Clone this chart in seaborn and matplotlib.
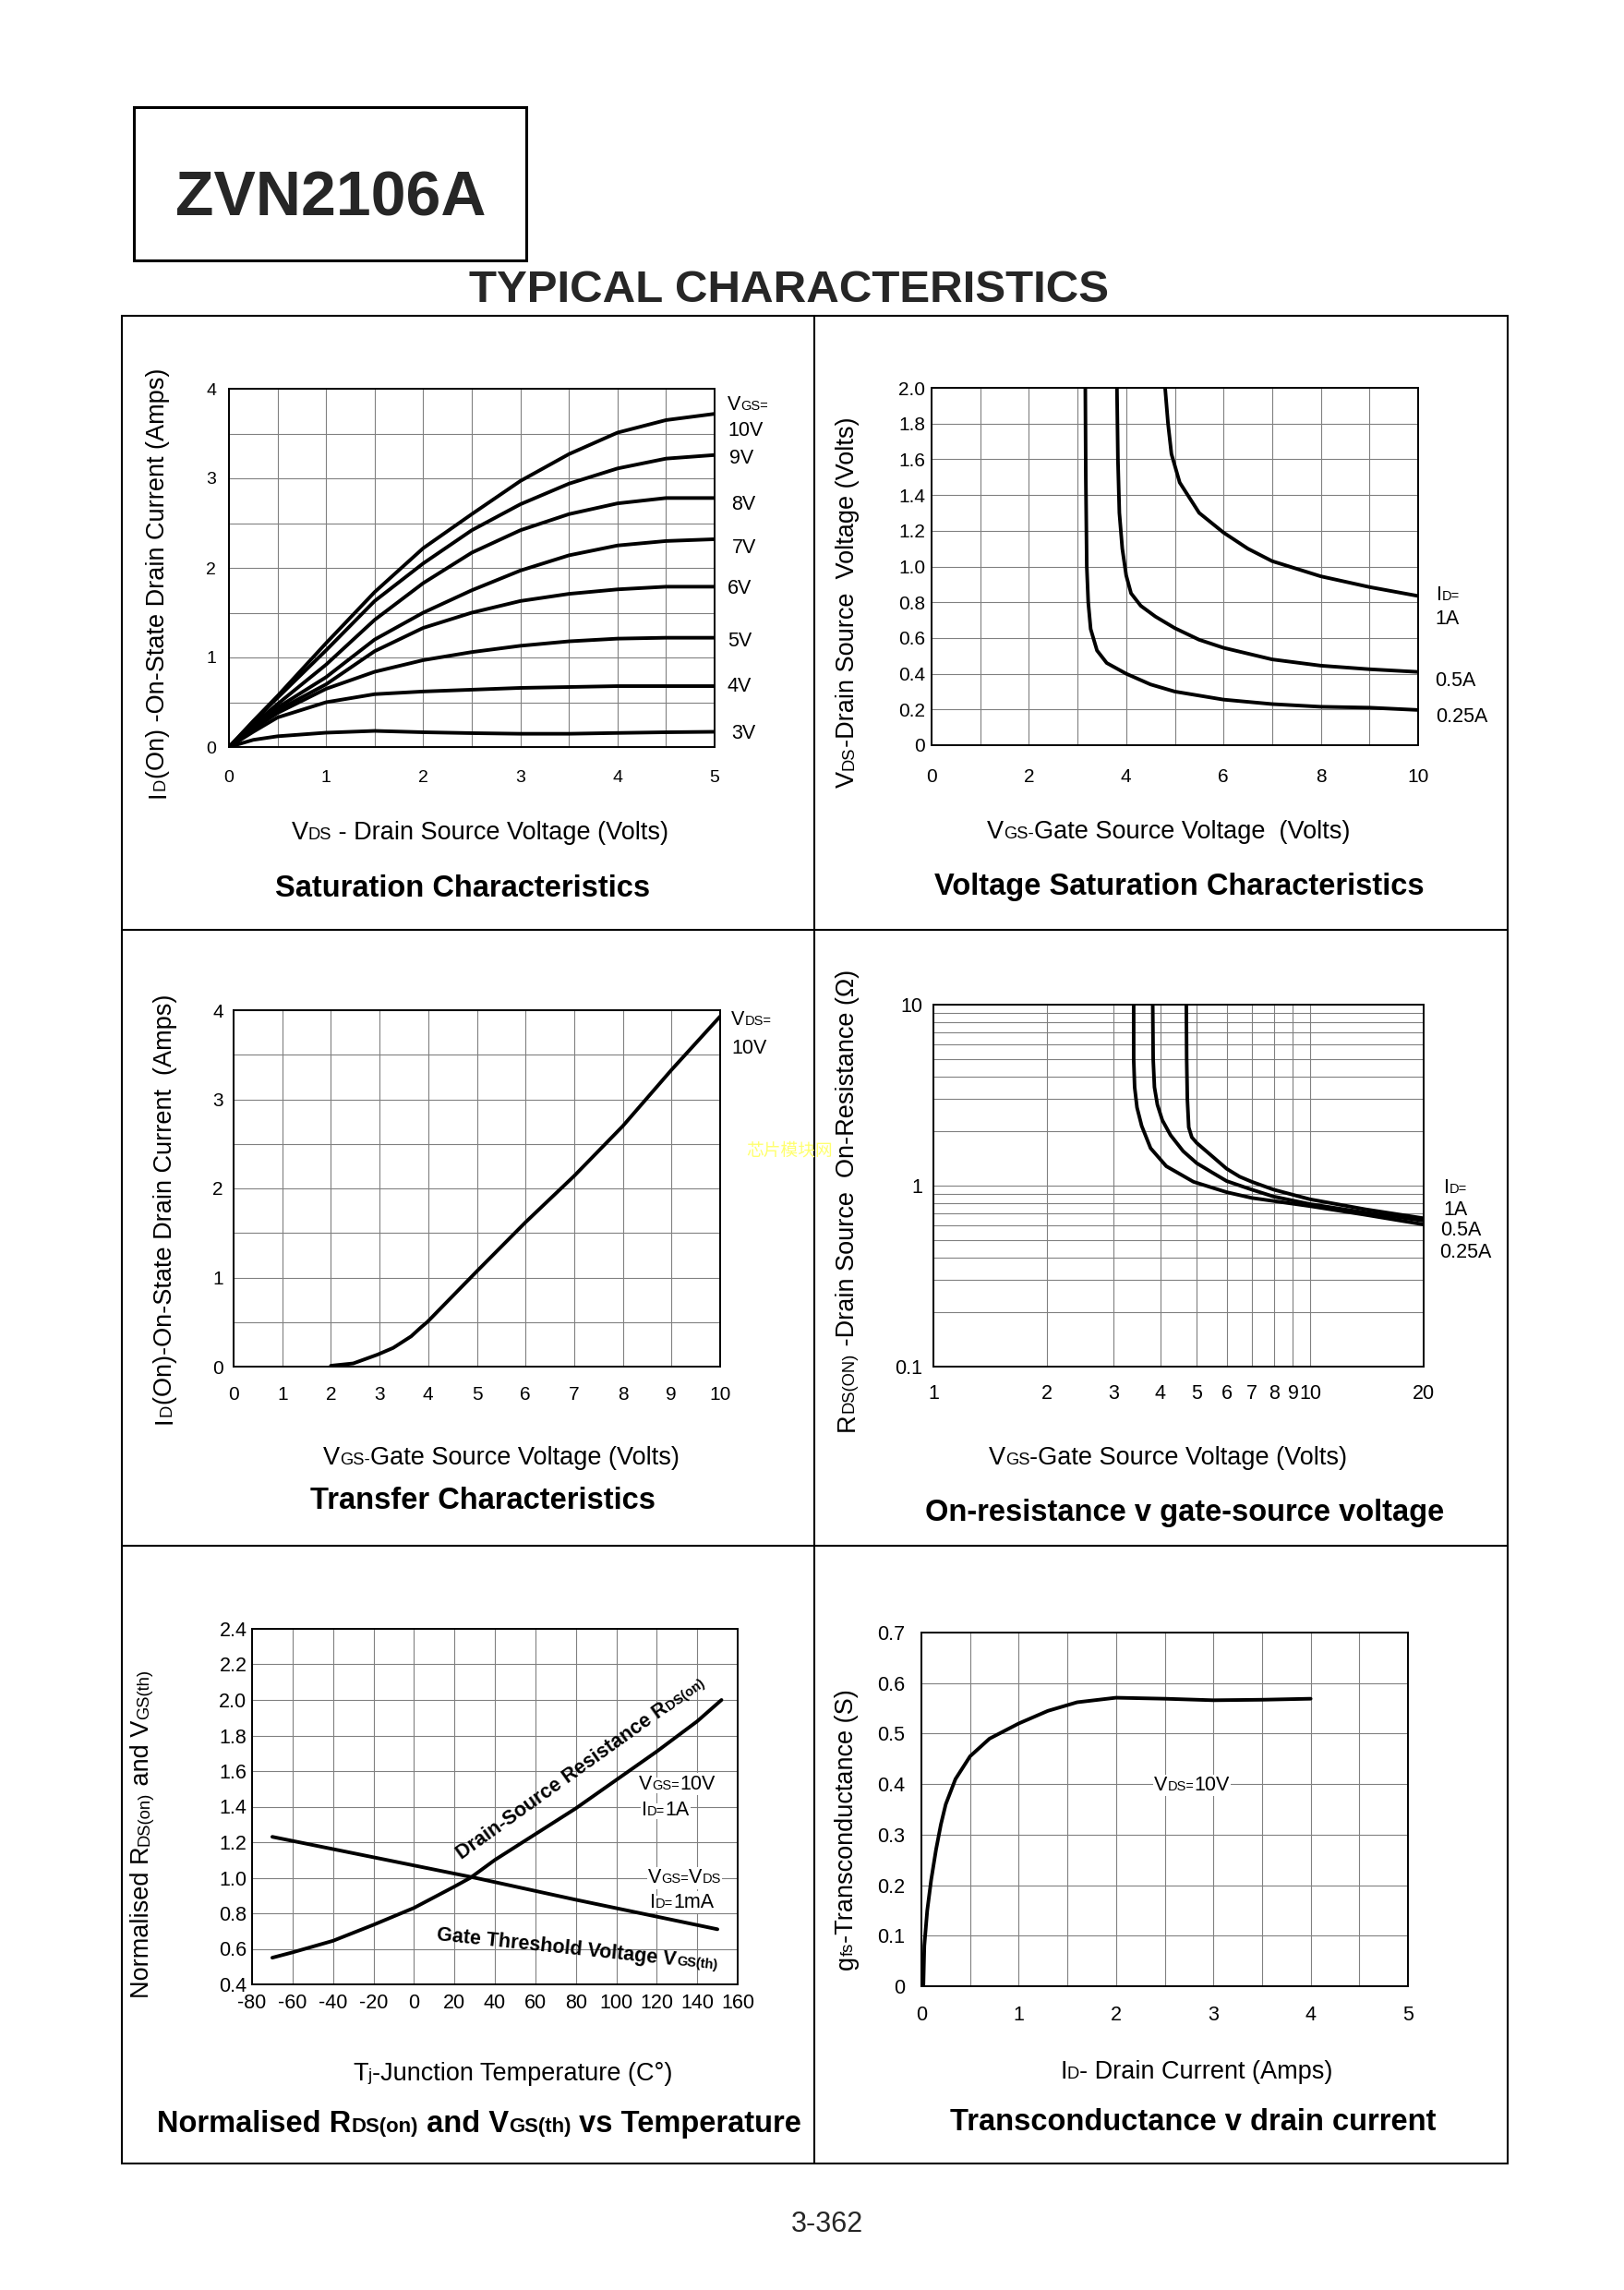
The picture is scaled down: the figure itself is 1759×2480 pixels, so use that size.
import numpy as np
import pandas as pd
import matplotlib
matplotlib.use("Agg")
import matplotlib.pyplot as plt
import matplotlib.transforms as mtransforms
from matplotlib.patches import Rectangle
from matplotlib.ticker import FixedLocator, NullFormatter
import seaborn as sns

# ---------------- data ----------------
# saturation characteristics (ID vs VDS for several VGS)
sat_vds = [0, 0.25, 0.5, 1, 1.5, 2, 2.5, 3, 3.5, 4, 4.5, 5]
sat_id_10v = [0, 0.29, 0.57, 1.16, 1.73, 2.22, 2.6, 2.97, 3.27, 3.51, 3.65, 3.72]
sat_id_9v = [0, 0.28, 0.55, 1.08, 1.63, 2.05, 2.42, 2.71, 2.94, 3.11, 3.22, 3.26]
sat_id_8v = [0, 0.25, 0.48, 0.92, 1.42, 1.83, 2.17, 2.42, 2.6, 2.72, 2.78, 2.78]
sat_id_7v = [0, 0.23, 0.44, 0.78, 1.2, 1.5, 1.75, 1.97, 2.14, 2.25, 2.3, 2.32]
sat_id_6v = [0, 0.22, 0.41, 0.7, 1.07, 1.33, 1.5, 1.63, 1.71, 1.76, 1.79, 1.79]
sat_id_5v = [0, 0.2, 0.38, 0.65, 0.84, 0.97, 1.06, 1.13, 1.18, 1.21, 1.22, 1.22]
sat_id_4v = [0, 0.17, 0.33, 0.5, 0.59, 0.62, 0.64, 0.66, 0.67, 0.68, 0.68, 0.68]
sat_id_3v = [0, 0.08, 0.12, 0.16, 0.18, 0.165, 0.155, 0.148, 0.148, 0.157, 0.165, 0.17]
sat_names = ["10V", "9V", "8V", "7V", "6V", "5V", "4V", "3V"]

# voltage saturation (VDS vs VGS for three ID)
vsat_vgs_1a = [4.80, 4.86, 4.93, 5.1, 5.5, 6, 6.5, 7, 8, 9, 10]
vsat_vds_1a = [2.0, 1.8, 1.63, 1.47, 1.3, 1.19, 1.1, 1.03, 0.945, 0.885, 0.835]
vsat_vgs_05a = [3.81, 3.83, 3.86, 3.92, 4.0, 4.1, 4.3, 4.6, 5.0, 5.5, 6, 7, 8, 9, 10]
vsat_vds_05a = [2.0, 1.6, 1.3, 1.1, 0.95, 0.85, 0.78, 0.72, 0.655, 0.59, 0.545, 0.48, 0.445, 0.425, 0.41]
vsat_vgs_025a = [3.16, 3.17, 3.19, 3.22, 3.27, 3.4, 3.6, 4.0, 4.5, 5, 6, 7, 8, 9, 10]
vsat_vds_025a = [2.0, 1.5, 1.0, 0.8, 0.65, 0.53, 0.46, 0.40, 0.34, 0.30, 0.255, 0.23, 0.215, 0.21, 0.197]

# transfer characteristics
tr_vgs = [2.0, 2.46, 2.96, 3.28, 3.65, 3.85, 3.98, 5, 6, 7, 8, 9, 10]
tr_id = [0.01, 0.036, 0.135, 0.21, 0.34, 0.44, 0.5, 1.07, 1.62, 2.14, 2.7, 3.33, 3.93]

# on-resistance vs VGS
ron_vgs_1a = [4.69, 4.70, 4.72, 4.76, 4.85, 5.0, 5.5, 6, 6.5, 7, 8, 9, 10, 14, 20]
ron_r_1a = [10, 5, 3, 2.1, 1.85, 1.72, 1.45, 1.24, 1.12, 1.05, 0.95, 0.89, 0.84, 0.74, 0.66]
ron_vgs_05a = [3.82, 3.83, 3.86, 3.93, 4.05, 4.26, 4.6, 5.0, 5.5, 6, 7, 8, 10, 14, 20]
ron_r_05a = [10, 5, 3.5, 2.8, 2.3, 1.9, 1.55, 1.33, 1.18, 1.06, 0.95, 0.87, 0.79, 0.71, 0.64]
ron_vgs_025a = [3.40, 3.40, 3.42, 3.47, 3.57, 3.77, 4.15, 4.9, 6, 7, 10, 14, 20]
ron_r_025a = [10, 5, 3.5, 2.7, 2.14, 1.61, 1.28, 1.05, 0.92, 0.855, 0.77, 0.69, 0.61]

# normalised RDS(on) and VGS(th) vs temperature
rds_temp = [-70, -60, -40, -20, 0, 20, 28, 40, 60, 80, 100, 120, 140, 152]
rds_norm = [0.55, 0.58, 0.645, 0.735, 0.83, 0.95, 1.0, 1.1, 1.245, 1.39, 1.55, 1.71, 1.88, 2.0]
vth_temp = [-70, -20, 30, 80, 150]
vth_norm = [1.23, 1.115, 1.0, 0.876, 0.71]

# transconductance vs drain current
gfs_id = [0.02, 0.03, 0.06, 0.1, 0.15, 0.2, 0.25, 0.35, 0.5, 0.7, 1.0, 1.3, 1.6, 2.0, 2.5, 3.0, 3.5, 4.0]
gfs_val = [0.0, 0.08, 0.15, 0.21, 0.27, 0.32, 0.36, 0.41, 0.455, 0.49, 0.52, 0.545, 0.562, 0.571,
           0.569, 0.566, 0.567, 0.569]

# tick labels
p1_xt, p1_yt = [0, 1, 2, 3, 4, 5], [0, 1, 2, 3, 4]
p2_xt = [0, 2, 4, 6, 8, 10]
p2_yt = ["0", "0.2", "0.4", "0.6", "0.8", "1.0", "1.2", "1.4", "1.6", "1.8", "2.0"]
p3_xt, p3_yt = list(range(11)), [0, 1, 2, 3, 4]
p4_xt = [1, 2, 3, 4, 5, 6, 7, 8, 9, 10, 20]
p4_yt = ["0.1", "1", "10"]
p5_xt = [-80, -60, -40, -20, 0, 20, 40, 60, 80, 100, 120, 140, 160]
p5_yt = ["0.4", "0.6", "0.8", "1.0", "1.2", "1.4", "1.6", "1.8", "2.0", "2.2", "2.4"]
p6_xt = [0, 1, 2, 3, 4, 5]
p6_yt = ["0", "0.1", "0.2", "0.3", "0.4", "0.5", "0.6", "0.7"]

# ---------------- figure ----------------
sns.set_theme(style="white")
plt.rcParams["font.family"] = ["Liberation Sans", "DejaVu Sans"]
plt.rcParams["axes.edgecolor"] = "black"

W, H = 1759, 2480
fig = plt.figure(figsize=(W / 100, H / 100), dpi=100)
fig.patch.set_facecolor("white")
bg = fig.add_axes([0, 0, 1, 1], zorder=-1)
bg.set_xlim(0, W)
bg.set_ylim(H, 0)
bg.axis("off")
renderer = fig.canvas.get_renderer()

SUB = 0.68
LW = 2.8


def rich_text(host, x, y, parts, size, weight="normal", rotation=0.0, ha="left",
              transform=None, **kw):
    """Text made of pieces with different sizes sharing one baseline."""
    base = transform if transform is not None else bg.transData
    widths = []
    for s, sc in parts:
        t = host.text(0, 0, s, fontsize=size * sc, fontweight=weight)
        widths.append(t.get_window_extent(renderer).width)
        t.remove()
    total = sum(widths)
    off = {"left": 0.0, "center": -total / 2, "right": -total}[ha]
    ang = np.deg2rad(rotation)
    for (s, sc), w in zip(parts, widths):
        tr = base + mtransforms.Affine2D().translate(off * np.cos(ang), off * np.sin(ang))
        host.text(x, y, s, transform=tr, fontsize=size * sc, fontweight=weight,
                  rotation=rotation, rotation_mode="anchor", ha="left", va="baseline",
                  color="black", **kw)
        off += w


def panel(x0, y0, x1, y1):
    ax = fig.add_axes([x0 / W, 1 - y1 / H, (x1 - x0) / W, (y1 - y0) / H])
    ax.set_facecolor("white")
    for sp in ax.spines.values():
        sp.set_visible(True)
        sp.set_color("black")
        sp.set_linewidth(1.4)
    return ax


def finish(ax, size, xpad, ypad):
    ax.grid(True, which="both", color="#808080", lw=0.8)
    ax.set_axisbelow(True)
    ax.tick_params(which="both", length=0, labelsize=size, colors="black")
    ax.tick_params(axis="x", pad=xpad)
    ax.tick_params(axis="y", pad=ypad)
    ax.set_xlabel("")
    ax.set_ylabel("")


def curves(ax, xs, ys, names):
    rows = []
    for x, y, n in zip(xs, ys, names):
        rows.append(pd.DataFrame({"x": x, "y": y, "curve": n}))
    df = pd.concat(rows, ignore_index=True)
    sns.lineplot(data=df, x="x", y="y", units="curve", estimator=None, sort=False,
                 color="black", lw=LW, ax=ax, legend=False)


# ---------------- page frame and headings ----------------
bg.add_patch(Rectangle((145, 116), 425, 166, fill=False, ec="black", lw=2.2))
bg.text(358, 233, "ZVN2106A", fontsize=49, fontweight="bold", ha="center", va="baseline")
bg.text(855, 327, "TYPICAL CHARACTERISTICS", fontsize=35.5, fontweight="bold",
        ha="center", va="baseline")
bg.add_patch(Rectangle((132, 342), 1501, 2001, fill=False, ec="black", lw=1.5))
bg.plot([882, 882], [342, 2343], color="black", lw=1.5)
bg.plot([132, 1633], [1007, 1007], color="black", lw=1.5)
bg.plot([132, 1633], [1674, 1674], color="black", lw=1.5)
bg.text(896, 2417, "3-362", fontsize=22, ha="center", va="baseline")
bg.text(808, 1252, "芯片模块网", fontsize=13.5, color="#ffff70",
        family=["Noto Sans CJK SC", "DejaVu Sans"], zorder=5)

AX_LBL = 19.5
TITLE = 23.5
CLBL = 15.5

# ---------------- 1: saturation characteristics ----------------
ax1 = panel(248, 421, 774, 809)
curves(ax1, [sat_vds] * 8,
       [sat_id_10v, sat_id_9v, sat_id_8v, sat_id_7v, sat_id_6v, sat_id_5v, sat_id_4v, sat_id_3v],
       sat_names)
ax1.set_xlim(0, 5)
ax1.set_ylim(0, 4)
ax1.set_xticks(p1_xt, [str(v) for v in p1_xt])
ax1.set_yticks(p1_yt, [str(v) for v in p1_yt])
ax1.xaxis.set_minor_locator(FixedLocator(np.arange(0.5, 5, 1.0)))
ax1.yaxis.set_minor_locator(FixedLocator(np.arange(0.5, 4, 1.0)))
finish(ax1, 14, 18, 10)
rich_text(bg, 788, 444, [("V", 1), ("GS=", SUB)], CLBL)
for name, (lx, ly) in zip(sat_names, [(788, 464), (790, 494), (792, 544), (793, 591),
                                      (788, 635), (788, 692), (788, 741), (792, 792)]):
    rich_text(bg, lx, ly + 7.7, [(name, 1)], CLBL)
rich_text(bg, 178.5, 631, [("I", 1), ("D", SUB), ("(On) -On-State Drain Current (Amps)", 1)],
          AX_LBL, rotation=90, ha="center")
rich_text(bg, 520, 909, [("V", 1), ("DS", SUB), (" - Drain Source Voltage (Volts)", 1)],
          AX_LBL, ha="center")
rich_text(bg, 501, 971, [("Saturation Characteristics", 1)], TITLE, weight="bold", ha="center")

# ---------------- 2: voltage saturation ----------------
ax2 = panel(1009, 420, 1536, 807)
curves(ax2, [vsat_vgs_1a, vsat_vgs_05a, vsat_vgs_025a],
       [vsat_vds_1a, vsat_vds_05a, vsat_vds_025a], ["1A", "0.5A", "0.25A"])
ax2.set_xlim(0, 10)
ax2.set_ylim(0, 2)
ax2.set_xticks(p2_xt, [str(v) for v in p2_xt])
ax2.set_yticks([float(v) for v in p2_yt], p2_yt)
ax2.xaxis.set_minor_locator(FixedLocator(np.arange(1, 10, 2)))
finish(ax2, 15, 18, 5)
rich_text(bg, 1556, 650, [("I", 1), ("D=", SUB)], CLBL)
for name, (lx, ly) in zip(["1A", "0.5A", "0.25A"], [(1554, 668), (1554, 735), (1555, 774)]):
    rich_text(bg, lx, ly + 7.7, [(name, 1)], CLBL)
rich_text(bg, 925, 652, [("V", 1), ("DS", SUB), ("-Drain Source  Voltage (Volts)", 1)],
          AX_LBL, rotation=90, ha="center")
rich_text(bg, 1266, 908, [("V", 1), ("GS-", SUB), ("Gate Source Voltage  (Volts)", 1)],
          AX_LBL, ha="center")
rich_text(bg, 1277, 969, [("Voltage Saturation Characteristics", 1)], TITLE, weight="bold",
          ha="center")

# ---------------- 3: transfer characteristics ----------------
ax3 = panel(253, 1094, 780, 1480)
curves(ax3, [tr_vgs], [tr_id], ["10V"])
ax3.set_xlim(0, 10)
ax3.set_ylim(0, 4)
ax3.set_xticks(p3_xt, [str(v) for v in p3_xt])
ax3.set_yticks(p3_yt, [str(v) for v in p3_yt])
ax3.yaxis.set_minor_locator(FixedLocator(np.arange(0.5, 4, 1.0)))
finish(ax3, 15, 15, 8)
rich_text(bg, 792, 1110, [("V", 1), ("DS=", SUB)], CLBL)
rich_text(bg, 792, 1141, [("10V", 1)], CLBL)
rich_text(bg, 185.7, 1309, [("I", 1), ("D", SUB), ("(On)-On-State Drain Current  (Amps)", 1)],
          AX_LBL, rotation=90, ha="center")
rich_text(bg, 543, 1586, [("V", 1), ("GS-", SUB), ("Gate Source Voltage (Volts)", 1)],
          AX_LBL, ha="center")
rich_text(bg, 523, 1634, [("Transfer Characteristics", 1)], TITLE, weight="bold", ha="center")

# ---------------- 4: on-resistance vs VGS ----------------
ax4 = panel(1011, 1088, 1542, 1480)
curves(ax4, [ron_vgs_1a, ron_vgs_05a, ron_vgs_025a], [ron_r_1a, ron_r_05a, ron_r_025a],
       ["1A", "0.5A", "0.25A"])
ax4.set_xscale("log")
ax4.set_yscale("log")
ax4.set_xlim(1, 20)
ax4.set_ylim(0.1, 10)
ax4.set_xticks(p4_xt, [str(v) for v in p4_xt])
ax4.xaxis.set_minor_locator(FixedLocator([]))
ax4.set_yticks([float(v) for v in p4_yt], p4_yt)
ax4.yaxis.set_minor_locator(FixedLocator(list(np.arange(0.2, 1.0, 0.1)) + list(range(2, 10))))
ax4.yaxis.set_minor_formatter(NullFormatter())
ax4.xaxis.set_minor_formatter(NullFormatter())
finish(ax4, 15.5, 14, 8.5)
rich_text(bg, 1564, 1292, [("I", 1), ("D=", SUB)], CLBL)
for name, (lx, ly) in zip(["1A", "0.5A", "0.25A"], [(1563, 1308), (1560, 1330), (1559, 1354)]):
    rich_text(bg, lx, ly + 7.7, [(name, 1)], CLBL)
rich_text(bg, 925, 1300, [("R", 1), ("DS(ON)", SUB), (" -Drain Source  On-Resistance (Ω)", 1)],
          AX_LBL, rotation=90, ha="center")
rich_text(bg, 1265, 1586, [("V", 1), ("GS", SUB), ("-Gate Source Voltage (Volts)", 1)],
          AX_LBL, ha="center")
rich_text(bg, 1283, 1647, [("On-resistance v gate-source voltage", 1)], TITLE, weight="bold",
          ha="center")

# ---------------- 5: normalised vs temperature ----------------
ax5 = panel(273, 1764, 799, 2149)
curves(ax5, [rds_temp, vth_temp], [rds_norm, vth_norm], ["RDS(on)", "VGS(th)"])
ax5.set_xlim(-80, 160)
ax5.set_ylim(0.4, 2.4)
ax5.set_xticks(p5_xt, [str(v) for v in p5_xt])
ax5.set_yticks([float(v) for v in p5_yt], p5_yt)
finish(ax5, 15.5, 7, 4)
box = dict(fc="white", ec="none", pad=1)
rich_text(ax5, 692, 1937.5, [("V", 1), ("GS=", SUB), ("10V", 1)], CLBL, bbox=box)
rich_text(ax5, 695, 1965.7, [("I", 1), ("D=", SUB), ("1A", 1)], CLBL, bbox=box)
rich_text(ax5, 702, 2039.4, [("V", 1), ("GS=", SUB), ("V", 1), ("DS", SUB)], CLBL, bbox=box)
rich_text(ax5, 704, 2065.5, [("I", 1), ("D=", SUB), ("1mA", 1)], CLBL, bbox=box)
rich_text(ax5, 500, 2014, [("Drain-Source Resistance R", 1), ("DS(on)", SUB)], 15.5,
          weight="bold", rotation=35.6)
rich_text(ax5, 473, 2101, [("Gate Threshold Voltage V", 1), ("GS(th)", SUB)], 15.5,
          weight="bold", rotation=-6)
rich_text(bg, 161.5, 1986, [("Normalised R", 1), ("DS(on)", SUB), (" and V", 1), ("GS(th)", SUB)],
          AX_LBL, rotation=90, ha="center")
rich_text(bg, 555, 2253, [("T", 1), ("j", SUB), ("-Junction Temperature (C°)", 1)],
          AX_LBL, ha="center")
rich_text(bg, 519, 2309, [("Normalised R", 1), ("DS(on)", SUB), (" and V", 1), ("GS(th)", SUB),
                          (" vs Temperature", 1)], TITLE, weight="bold", ha="center")

# ---------------- 6: transconductance ----------------
ax6 = panel(998, 1768, 1525, 2151)
curves(ax6, [gfs_id], [gfs_val], ["10V"])
ax6.set_xlim(0, 5)
ax6.set_ylim(0, 0.7)
ax6.set_xticks(p6_xt, [str(v) for v in p6_xt])
ax6.set_yticks([float(v) for v in p6_yt], p6_yt)
ax6.xaxis.set_minor_locator(FixedLocator(np.arange(0.5, 5, 1.0)))
finish(ax6, 15.5, 15, 13)
rich_text(ax6, 1291, 1939, [("V", 1), ("DS=", SUB), ("10V", 1)], CLBL, ha="center", bbox=box)
rich_text(bg, 924, 1981, [("g", 1), ("fs", SUB), ("-Transconductance (S)", 1)],
          AX_LBL, rotation=90, ha="center")
rich_text(bg, 1296, 2251, [("I", 1), ("D", SUB), ("- Drain Current (Amps)", 1)],
          AX_LBL, ha="center")
rich_text(bg, 1292, 2307, [("Transconductance v drain current", 1)], TITLE, weight="bold",
          ha="center")

fig.savefig("out.png", dpi=100, facecolor="white")
